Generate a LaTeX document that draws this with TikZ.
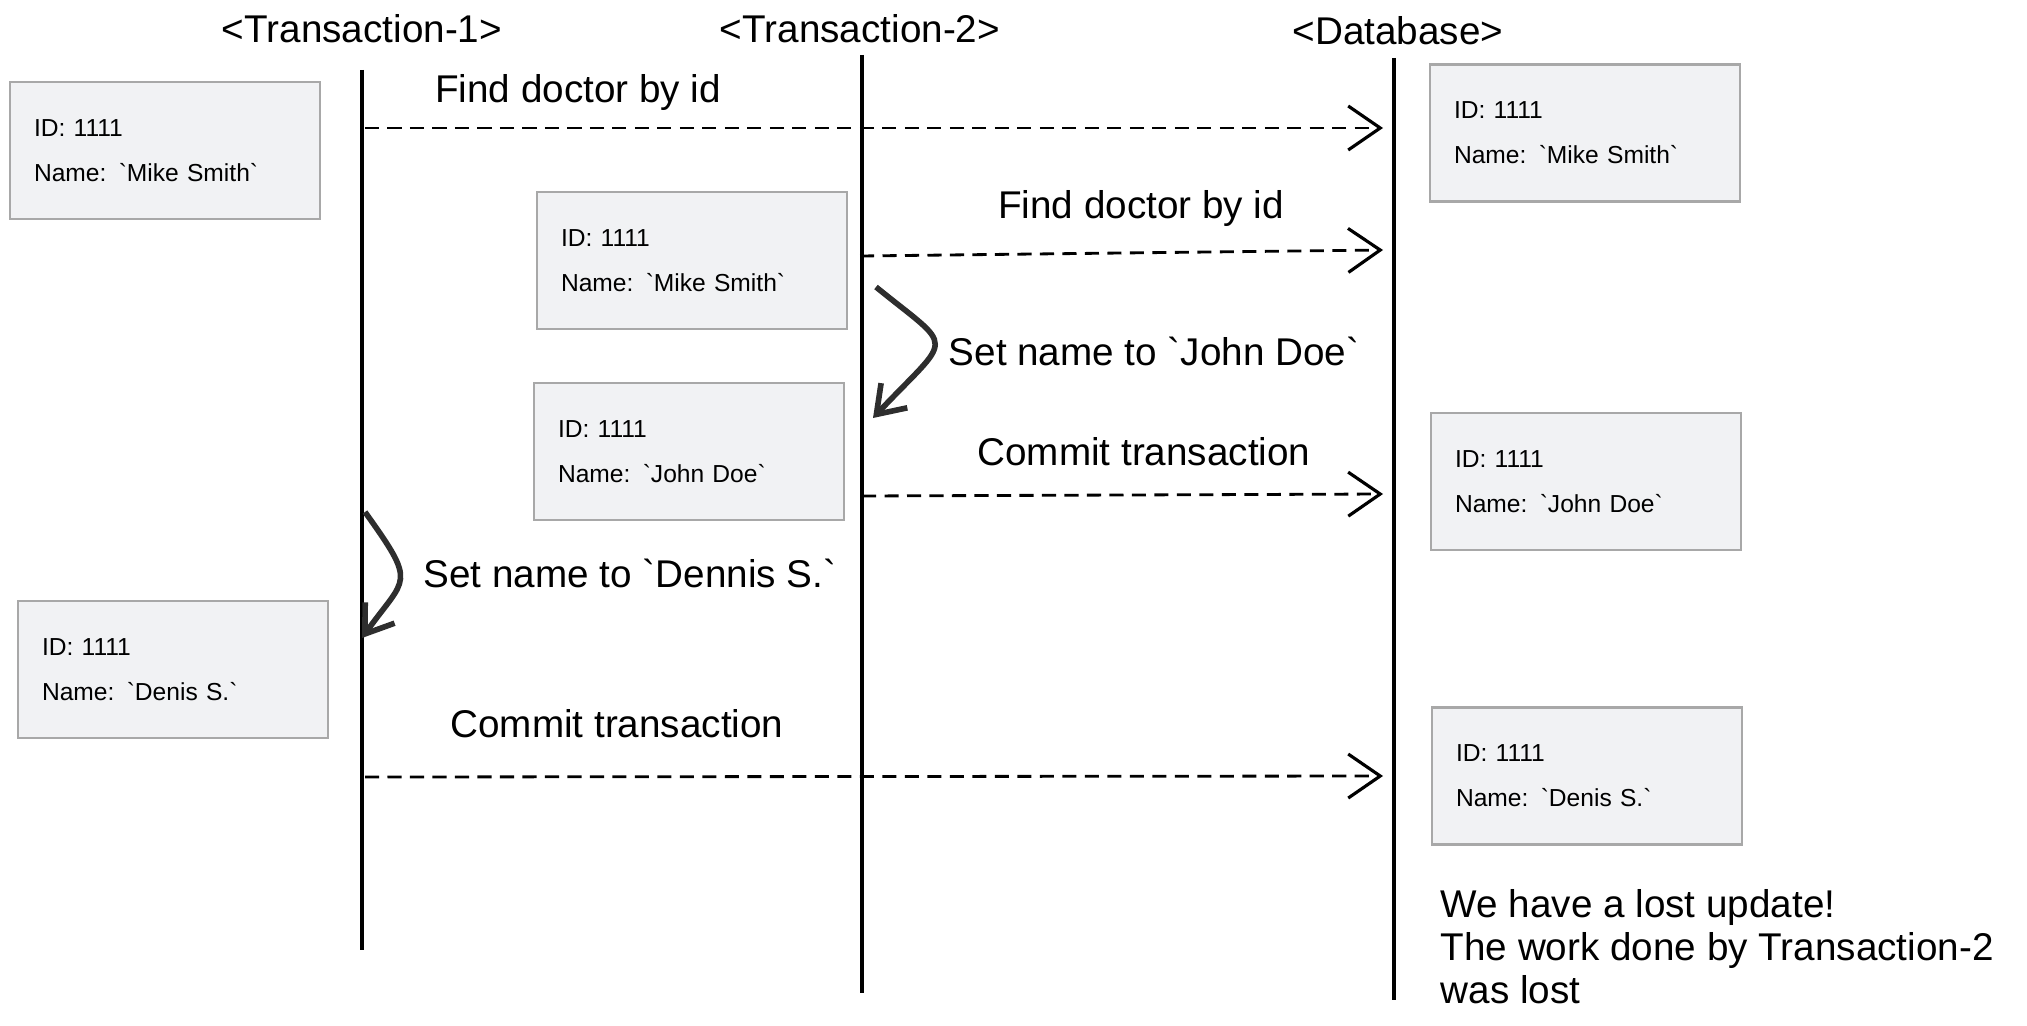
\documentclass[tikz,border=0pt]{standalone}
\usepackage{fontspec}
\setmainfont{Liberation Sans}
\usetikzlibrary{arrows.meta}
\definecolor{boxfill}{HTML}{F1F2F4}
\definecolor{boxline}{HTML}{A8A8A8}
\definecolor{curve}{HTML}{2E2E2E}
\newcommand\bq{\textasciigrave}

\begin{document}
\begin{tikzpicture}[every node/.style={inner sep=0pt},
  rec/.style={draw=boxline, fill=boxfill, line width=.6pt, text width=2.62cm, minimum height=1.37cm,
    inner xsep=.24cm, align=left, font=\fontsize{7}{12.8}\selectfont},
  lbl/.style={anchor=base, font=\fontsize{11}{13}\selectfont},
  life/.style={line width=1.3pt},
  msg/.style={dash pattern=on 4pt off 2.4pt, line width=.8pt, -{Straight Barb[length=3.2mm,width=4.4mm,line width=.9pt]}},
  upd/.style={draw=curve, line width=1.6pt, -{Straight Barb[length=2.6mm,width=3.6mm]}}]
      \useasboundingbox (0,0) rectangle (20.27,-10.25);

      \node[lbl] (h1) at (3.62,-0.43) {<Transaction-1>};
      \node[lbl] (h2) at (8.60,-0.43) {<Transaction-2>};
      \node[lbl] (h3) at (13.98,-0.45) {<Database>};

      \coordinate (t1a) at (3.62,-0.70);
      \coordinate (t1b) at (3.62,-9.50);
      \coordinate (t2a) at (8.62,-0.55);
      \coordinate (t2b) at (8.62,-9.93);
      \coordinate (dba) at (13.94,-0.58);
      \coordinate (dbb) at (13.94,-10.00);
      \draw[life] (t1a)--(t1b);
      \draw[life] (t2a)--(t2b);
      \draw[life] (dba)--(dbb);

      \node[rec] (a) at (1.65,-1.505) {ID: 1111\\Name: \bq Mike Smith\bq};
      \node[rec] (b) at (6.92,-2.605) {ID: 1111\\Name: \bq Mike Smith\bq};
      \node[rec] (c) at (6.89,-4.515) {ID: 1111\\Name: \bq John Doe\bq};
      \node[rec] (d) at (1.73,-6.695) {ID: 1111\\Name: \bq Denis S.\bq};
      \node[rec] (e) at (15.85,-1.33) {ID: 1111\\Name: \bq Mike Smith\bq};
      \node[rec] (f) at (15.86,-4.815) {ID: 1111\\Name: \bq John Doe\bq};
      \node[rec] (g) at (15.87,-7.76) {ID: 1111\\Name: \bq Denis S.\bq};

      \coordinate (m1s) at (3.65,-1.28);
      \coordinate (m1e) at (13.83,-1.28);
      \coordinate (m2s) at (8.60,-2.56);
      \coordinate (m2e) at (13.83,-2.50);
      \coordinate (m3s) at (8.62,-4.96);
      \coordinate (m3e) at (13.83,-4.94);
      \coordinate (m4s) at (3.65,-7.77);
      \coordinate (m4e) at (13.83,-7.76);
      \draw[msg] (m1s)--(m1e);
      \draw[msg] (m2s)--(m2e);
      \draw[msg] (m3s)--(m3e);
      \draw[msg] (m4s)--(m4e);

      \coordinate (u1s) at (8.76,-2.87);
      \coordinate (u1e) at (8.73,-4.18);
      \coordinate (u2s) at (3.65,-5.12);
      \coordinate (u2e) at (3.62,-6.38);
      \draw[upd] (u1s) .. controls (9.56,-3.52) and (9.53,-3.33) .. (u1e);
      \draw[upd] (u2s) .. controls (4.18,-5.86) and (4.06,-5.76) .. (u2e);

      \node[lbl] (l1) at (5.78,-1.03) {Find doctor by id};
      \node[lbl] (l2) at (11.41,-2.18) {Find doctor by id};
      \node[lbl, anchor=base west] (l3) at (9.48,-3.65) {Set name to \bq John Doe\bq};
      \node[lbl] (l4) at (11.44,-4.65) {Commit transaction};
      \node[lbl, anchor=base west] (l5) at (4.23,-5.87) {Set name to \bq Dennis S.\bq};
      \node[lbl] (l6) at (6.17,-7.37) {Commit transaction};

      \node[lbl, anchor=base west, align=left, font=\fontsize{11}{12.2}\selectfont] (n) at (14.40,-10.03)
        {We have a lost update!\\The work done by Transaction-2\\was lost};
\end{tikzpicture}
\end{document}
